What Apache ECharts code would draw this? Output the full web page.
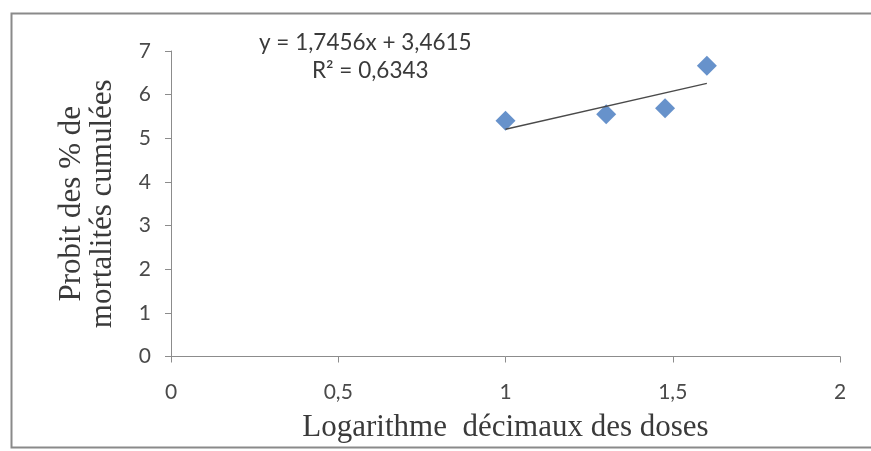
<!DOCTYPE html>
<html>
<head>
<meta charset="utf-8">
<script src="https://cdn.jsdelivr.net/npm/echarts@6/dist/echarts.min.js"></script>
<style>
  html, body { margin: 0; padding: 0; background: #ffffff; }
  #chart { width: 871px; height: 451px; }
</style>
</head>
<body>
<div id="chart"></div>
<script>
// Log10 of the doses and the probit of cumulative mortality
const logDoses = [1, 1.301, 1.477, 1.602];
const probits = [5.40, 5.55, 5.69, 6.66];

// Linear trendline fitted to the points
const slope = 1.7456;
const intercept = 3.4615;
const rSquared = 0.6343;

const xTicks = [0, 0.5, 1, 1.5, 2];
const yTicks = [0, 1, 2, 3, 4, 5, 6, 7];

const fmt = (v, d) => v.toFixed(d).replace('.', ',');
const trendX = [Math.min(...logDoses), Math.max(...logDoses)];
const trendLine = trendX.map(x => [x, slope * x + intercept]);

const chart = echarts.init(document.getElementById('chart'), null, { renderer: 'canvas' });

const tickFont = { fontFamily: 'Lato, "Open Sans", sans-serif', fontSize: 21, color: '#4a4a4a' };
const serif = '"Liberation Serif", "Times New Roman", serif';

chart.setOption({
  animation: false,
  backgroundColor: '#ffffff',
  grid: { left: 171, right: 31, top: 51, bottom: 94.5, containLabel: false },
  xAxis: {
    type: 'value', min: 0, max: 2, interval: 0.5,
    axisLine: { show: true, lineStyle: { color: '#8c8c8c', width: 1 } },
    axisTick: { show: true, length: 6, lineStyle: { color: '#8c8c8c' } },
    splitLine: { show: false },
    axisLabel: Object.assign({ margin: 25, formatter: v => xTicks.includes(v) ? String(v).replace('.', ',') : '' }, tickFont),
    name: 'Logarithme  décimaux des doses',
    nameLocation: 'middle', nameGap: 56,
    nameTextStyle: { fontFamily: serif, fontSize: 31, color: '#3a3a3a' }
  },
  yAxis: {
    type: 'value', min: 0, max: 7, interval: 1,
    axisLine: { show: true, lineStyle: { color: '#8c8c8c', width: 1 } },
    axisTick: { show: true, length: 6, lineStyle: { color: '#8c8c8c' } },
    splitLine: { show: false },
    axisLabel: Object.assign({ margin: 20, formatter: v => yTicks.includes(v) ? String(v) : '' }, tickFont),
    name: 'Probit des % de\nmortalités cumulées',
    nameLocation: 'middle', nameGap: 53,
    nameTextStyle: { fontFamily: serif, fontSize: 31, lineHeight: 31, color: '#3a3a3a' }
  },
  graphic: [
    {
      type: 'rect', silent: true, z: -1,
      shape: { x: 11.5, y: 13.5, width: 880, height: 434 },
      style: { fill: 'none', stroke: '#8a8a8a', lineWidth: 2 }
    },
    {
      type: 'text', left: 259, top: 31,
      style: { text: 'y = ' + fmt(slope, 4) + 'x + ' + fmt(intercept, 4), font: '22.5px Lato, "Open Sans", sans-serif', fill: '#3a3a3a' }
    },
    {
      type: 'text', left: 312, top: 59,
      style: { text: 'R² = ' + fmt(rSquared, 4), font: '22.5px Lato, "Open Sans", sans-serif', fill: '#3a3a3a' }
    }
  ],
  series: [
    {
      type: 'line',
      data: trendLine,
      symbol: 'none',
      lineStyle: { color: '#4a4a4a', width: 1.3 },
      z: 3
    },
    {
      type: 'scatter',
      data: logDoses.map((x, i) => [x, probits[i]]),
      symbol: 'diamond',
      symbolSize: 20,
      itemStyle: { color: '#4177be' },
      z: 2
    }
  ]
});
</script>
</body>
</html>
